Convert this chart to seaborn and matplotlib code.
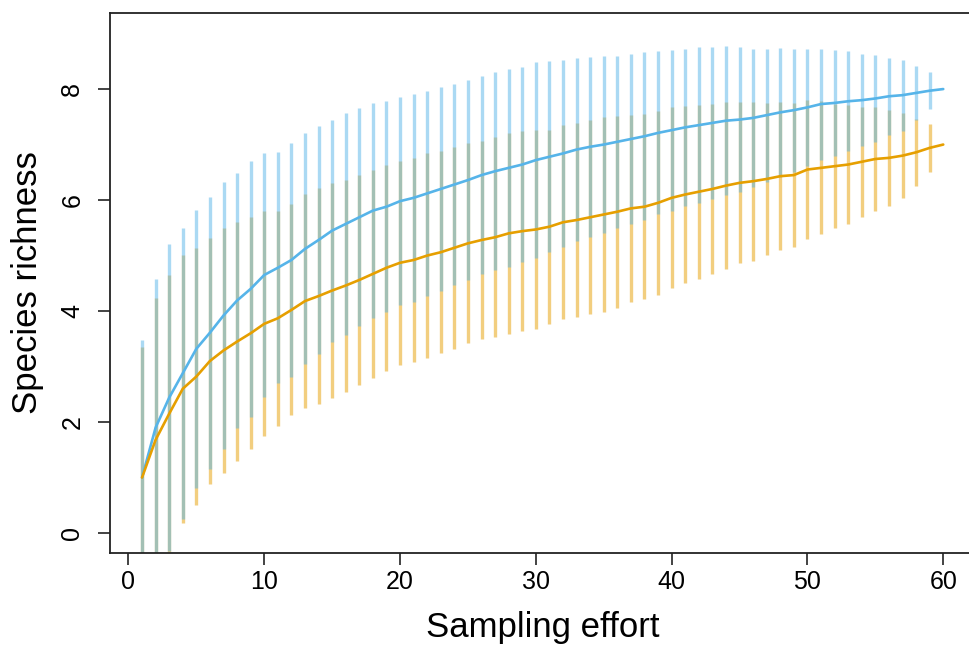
"""
Species accumulation curves for two sites, mean +/- sd as vertical bars.
"""

import numpy as np
import pandas as pd
import matplotlib
matplotlib.use("Agg")
import matplotlib.pyplot as plt
import seaborn as sns

# Sampling effort (number of sites pooled)
effort = list(range(1, 61))

# Blue community: mean richness and sd
blue_mean = [1.00, 1.90, 2.44, 2.88, 3.32, 3.61, 3.92, 4.19, 4.40, 4.65,
             4.78, 4.92, 5.12, 5.28, 5.45, 5.57, 5.69, 5.81, 5.88, 5.98,
             6.04, 6.12, 6.20, 6.28, 6.36, 6.45, 6.52, 6.58, 6.64, 6.72,
             6.78, 6.84, 6.91, 6.96, 7.00, 7.05, 7.10, 7.15, 7.21, 7.26,
             7.31, 7.35, 7.39, 7.43, 7.45, 7.48, 7.53, 7.58, 7.62, 7.67,
             7.73, 7.75, 7.78, 7.80, 7.83, 7.87, 7.89, 7.93, 7.97, 8.00]
blue_sd = [2.48, 2.67, 2.76, 2.62, 2.50, 2.45, 2.40, 2.30, 2.31, 2.20,
           2.08, 2.10, 2.08, 2.05, 2.00, 2.00, 1.96, 1.93, 1.90, 1.88,
           1.87, 1.84, 1.83, 1.81, 1.80, 1.79, 1.78, 1.79, 1.76, 1.76,
           1.72, 1.69, 1.65, 1.62, 1.59, 1.55, 1.53, 1.51, 1.47, 1.45,
           1.42, 1.40, 1.37, 1.34, 1.30, 1.25, 1.20, 1.16, 1.11, 1.06,
           1.00, 0.95, 0.90, 0.83, 0.78, 0.69, 0.64, 0.49, 0.33, 0.00]

# Orange community
orange_mean = [1.00, 1.68, 2.15, 2.60, 2.82, 3.10, 3.29, 3.45, 3.60, 3.77,
               3.87, 4.02, 4.18, 4.27, 4.37, 4.46, 4.56, 4.67, 4.78, 4.87,
               4.92, 5.00, 5.06, 5.14, 5.22, 5.28, 5.33, 5.40, 5.44, 5.47,
               5.52, 5.60, 5.64, 5.69, 5.74, 5.79, 5.85, 5.88, 5.95, 6.04,
               6.10, 6.15, 6.20, 6.26, 6.31, 6.34, 6.38, 6.43, 6.45, 6.55,
               6.58, 6.61, 6.64, 6.69, 6.74, 6.76, 6.80, 6.86, 6.94, 7.00]
orange_sd = [2.35, 2.56, 2.50, 2.41, 2.32, 2.21, 2.20, 2.15, 2.09, 2.03,
             1.94, 1.90, 1.93, 1.94, 1.93, 1.91, 1.90, 1.88, 1.86, 1.84,
             1.83, 1.84, 1.82, 1.82, 1.80, 1.78, 1.80, 1.81, 1.80, 1.80,
             1.75, 1.75, 1.75, 1.75, 1.75, 1.73, 1.68, 1.67, 1.66, 1.63,
             1.60, 1.57, 1.53, 1.50, 1.45, 1.43, 1.37, 1.33, 1.30, 1.26,
             1.20, 1.12, 1.07, 0.99, 0.93, 0.87, 0.77, 0.60, 0.43, 0.00]

BLUE = "#56B4E9"
ORANGE = "#E69F00"

sns.set_style("white")
plt.rcParams['font.family'] = ['Liberation Sans', 'DejaVu Sans']
plt.rcParams['text.color'] = 'black'
plt.rcParams['axes.labelcolor'] = 'black'
plt.rcParams['xtick.color'] = 'black'
plt.rcParams['ytick.color'] = 'black'

df = pd.DataFrame({
    'effort': effort,
    'blue': blue_mean, 'blue_sd': blue_sd,
    'orange': orange_mean, 'orange_sd': orange_sd,
})

fig = plt.figure(figsize=(9.69, 6.51), dpi=100)
ax = fig.add_axes([0.1135, 0.1505, 0.893, 0.8295])

# error bars (orange underneath, blue on top, both semi-transparent)
for col, color in [('orange', ORANGE), ('blue', BLUE)]:
    d = df[df[col + '_sd'] > 0]
    ax.vlines(d['effort'], d[col] - d[col + '_sd'], d[col] + d[col + '_sd'],
              colors=color, alpha=0.5, linewidth=2.4)

sns.lineplot(data=df, x='effort', y='blue', color=BLUE, linewidth=1.9, ax=ax)
sns.lineplot(data=df, x='effort', y='orange', color=ORANGE, linewidth=1.9, ax=ax)

ax.set_xlim(-1.36, 62.36)
ax.set_ylim(-0.36, 9.37)
ax.set_xticks([0, 10, 20, 30, 40, 50, 60])
ax.set_yticks([0, 2, 4, 6, 8])

ax.set_xlabel('Sampling effort', fontsize=25)
ax.set_ylabel('Species richness', fontsize=25)
ax.xaxis.set_label_coords(0.5, -0.108)
ax.yaxis.set_label_coords(-0.076, 0.5)

ax.tick_params(axis='both', direction='out', length=8.5, width=1.2,
               color='#222222', labelsize=18, left=True, bottom=True)
ax.tick_params(axis='x', pad=4)
ax.tick_params(axis='y', pad=10)
for lab in ax.get_yticklabels():
    lab.set_rotation(90)
    lab.set_va('center')

for s in ax.spines.values():
    s.set_visible(True)
    s.set_color('#222222')
    s.set_linewidth(1.3)

fig.savefig('out.png', dpi=100)
